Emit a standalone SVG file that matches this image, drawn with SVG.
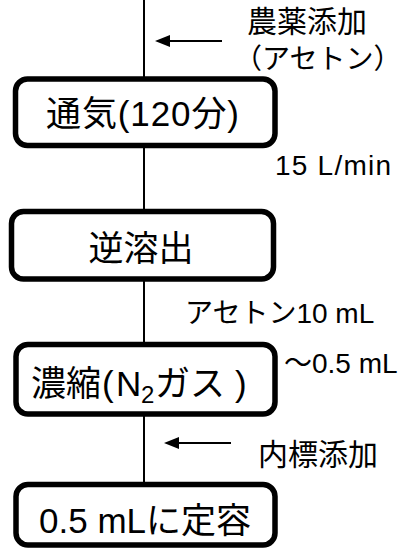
<svg xmlns="http://www.w3.org/2000/svg" width="402" height="550" viewBox="0 0 402 550">
<style>
.box{fill:#fff;stroke:#000;stroke-width:5.5}
.ln{stroke:#000;stroke-width:2;fill:none}
.t{font-family:"Liberation Sans","Noto Sans CJK JP",sans-serif;fill:#000}
.bt{font-size:35px}
.lt{font-size:30px}
.mt{font-size:28px}
</style>
<rect width="402" height="550" fill="#fff"/>
<g id="connectors">
<line class="ln" x1="144" y1="0" x2="144" y2="79"/>
<line class="ln" x1="144" y1="145" x2="144" y2="211"/>
<line class="ln" x1="144" y1="279" x2="144" y2="345"/>
<line class="ln" x1="144" y1="414" x2="144" y2="484"/>
<line class="ln" x1="168" y1="41" x2="222" y2="41"/>
<polygon points="155,41 170,35 170,47" fill="#000"/>
<line class="ln" x1="177" y1="443" x2="231" y2="443"/>
<polygon points="164,443 179,437 179,449" fill="#000"/>
</g>
<g id="label-pesticide">
<text class="t lt" x="247" y="32">農薬添加</text>
<text class="t mt" x="234" y="69">（アセトン）</text>
</g>
<g id="node-aeration">
<rect class="box" x="15.5" y="79" width="259.5" height="66.5" rx="12"/>
<text class="t bt" x="46" y="125.5" textLength="193" lengthAdjust="spacing">通気(120分)</text>
</g>
<g id="label-flow">
<text class="t mt" x="275" y="175" textLength="116" lengthAdjust="spacing">15 L/min</text>
</g>
<g id="node-elution">
<rect class="box" x="11.5" y="211.5" width="262" height="67.5" rx="12"/>
<text class="t bt" x="141" y="260.5" text-anchor="middle">逆溶出</text>
</g>
<g id="label-acetone">
<text class="t mt" x="185" y="323">アセトン10 mL</text>
</g>
<g id="node-concentrate">
<rect class="box" x="16" y="344.5" width="259" height="69.5" rx="12"/>
<text class="t bt" y="395.5"><tspan x="31">濃縮</tspan><tspan x="102">(</tspan><tspan x="116">N</tspan><tspan x="141" dy="7" font-size="24">2</tspan><tspan x="155" dy="-7">ガス</tspan><tspan x="235">)</tspan></text>
</g>
<g id="label-volume">
<text class="t mt" x="284" y="373">～0.5 mL</text>
</g>
<g id="label-internal">
<text class="t lt" x="258" y="465">内標添加</text>
</g>
<g id="node-final">
<rect class="box" x="16" y="484.5" width="259" height="60.5" rx="12"/>
<text class="t bt" x="39" y="533">0.5 mLに定容</text>
</g>
</svg>
